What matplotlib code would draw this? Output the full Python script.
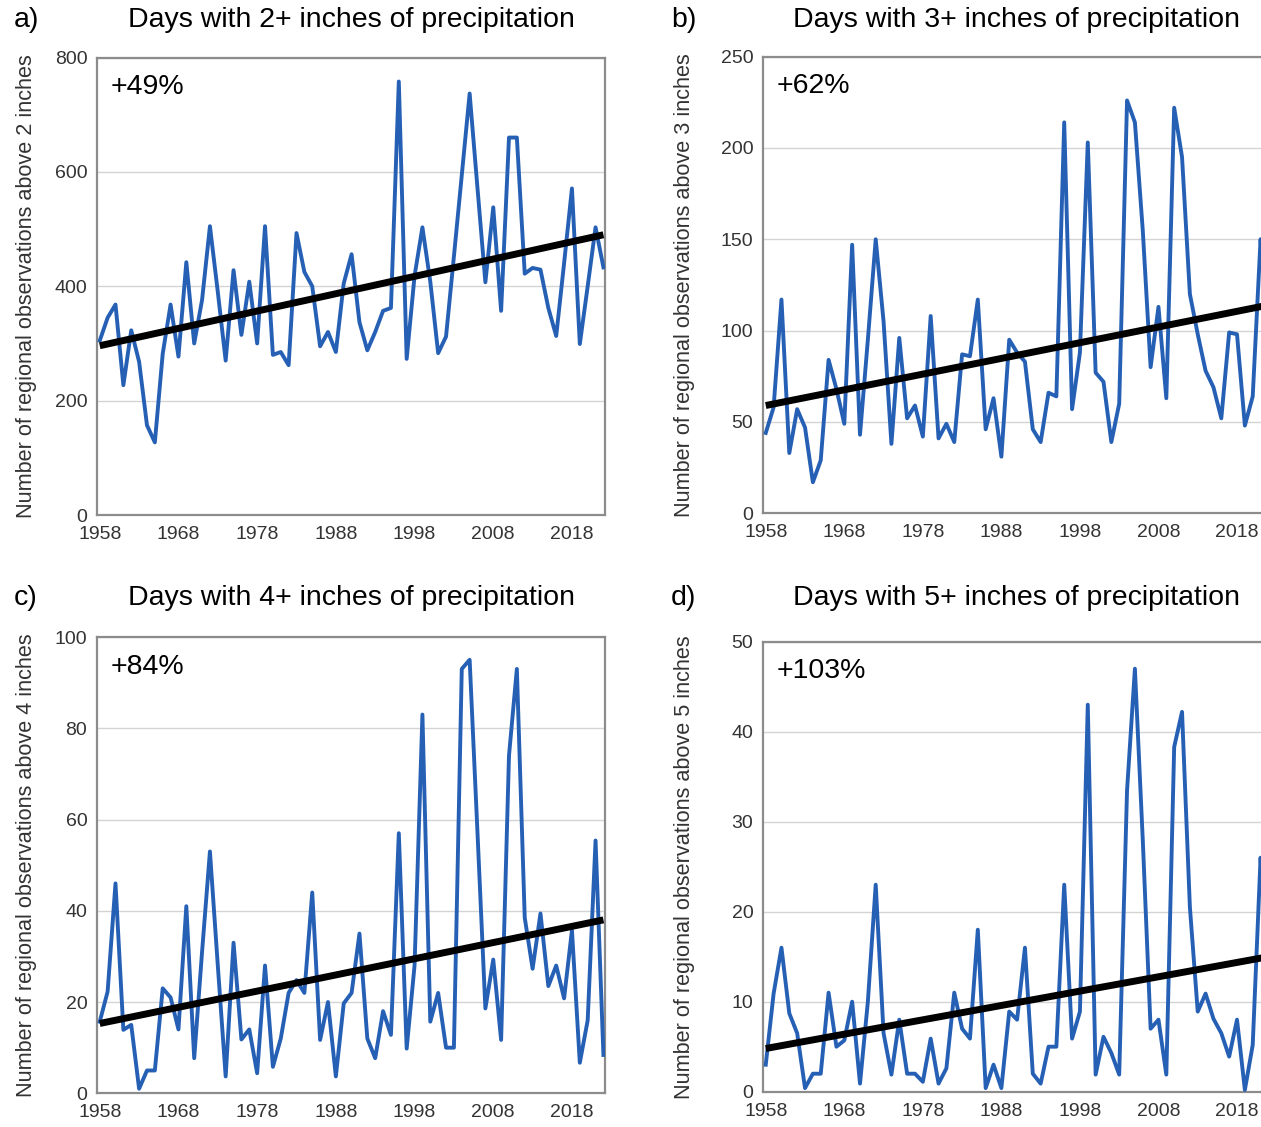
import matplotlib
matplotlib.use('Agg')

import numpy as np
import matplotlib.pyplot as plt

plt.rcParams['font.family'] = ['Liberation Sans', 'DejaVu Sans']

years = np.arange(1958, 2023)

# days with 2+ inches
obs_2in = [305, 345, 368, 227, 323, 268, 157, 127, 282, 368,
           277, 442, 300, 376, 505, 390, 270, 428, 315, 408,
           300, 505, 280, 285, 262, 493, 425, 400, 295, 320,
           285, 405, 456, 337, 288, 320, 357, 362, 758, 273,
           418, 503, 408, 283, 312, 452, 594, 737, 571, 407,
           538, 357, 660, 660, 422, 432, 429, 362, 313, 440,
           571, 299, 400, 503, 433]
# days with 3+ inches
obs_3in = [44, 58, 117, 33, 57, 47, 17, 29, 84, 68,
           49, 147, 43, 95, 150, 105, 38, 96, 52, 59,
           42, 108, 41, 49, 39, 87, 86, 117, 46, 63,
           31, 95, 88, 83, 46, 39, 66, 64, 214, 57,
           88, 203, 77, 72, 39, 60, 226, 214, 155, 80,
           113, 63, 222, 195, 120, 98, 78, 69, 52, 99,
           98, 48, 64, 150, 80]
# days with 4+ inches
obs_4in = [15.7, 22.3, 46, 13.9, 15, 1, 5, 5, 23, 21,
           14, 41, 7.7, 31, 53, 28, 3.7, 33, 11.8, 14,
           4.4, 28, 5.8, 12, 22, 24.8, 22, 44, 11.7, 20,
           3.7, 19.7, 22, 35, 12, 7.7, 18, 12.8, 57, 9.8,
           28, 83, 15.7, 22, 10, 10, 93, 95, 57, 18.6,
           29.3, 11.7, 74, 93, 38.5, 27.3, 39.4, 23.5, 28, 20.8,
           35.7, 6.7, 16, 55.4, 8.4]
# days with 5+ inches
obs_5in = [3, 10.9, 16, 8.7, 6.5, 0.4, 2, 2, 11, 5,
           5.7, 10, 0.9, 10, 23, 6.5, 1.9, 8, 2, 2,
           1.1, 5.9, 0.9, 2.6, 11, 7, 5.9, 18, 0.4, 3,
           0.4, 8.9, 8, 16, 2, 0.9, 5, 5, 23, 5.9,
           8.9, 43, 1.9, 6.1, 4.3, 1.9, 33.5, 47, 28, 7,
           8, 1.9, 38.3, 42.2, 20.5, 8.9, 10.9, 8.1, 6.5, 3.9,
           8, 0.2, 5.2, 26, 10]

# trend line values at 1958 and 2022
trend_2in = [296, 490]
trend_3in = [59, 114]
trend_4in = [15.3, 38]
trend_5in = [4.8, 15.0]

panel_tags = ['a)', 'b)', 'c)', 'd)']
titles = ['Days with 2+ inches of precipitation',
          'Days with 3+ inches of precipitation',
          'Days with 4+ inches of precipitation',
          'Days with 5+ inches of precipitation']
ylabels = ['Number of regional observations above 2 inches',
           'Number of regional observations above 3 inches',
           'Number of regional observations above 4 inches',
           'Number of regional observations above 5 inches']
pct_labels = ['+49%', '+62%', '+84%', '+103%']
ymaxes = [800, 250, 100, 50]
ysteps = [200, 50, 20, 10]
xticks = [1958, 1968, 1978, 1988, 1998, 2008, 2018]

series = [obs_2in, obs_3in, obs_4in, obs_5in]
trends = [trend_2in, trend_3in, trend_4in, trend_5in]

W, H = 1261, 1127
fig = plt.figure(figsize=(W / 100, H / 100), dpi=100)

# axes boxes in pixels: left, top, right, bottom
boxes = [(97, 57.5, 605, 515),
         (763, 56.6, 1270, 513.3),
         (97, 637, 605, 1093.3),
         (763, 641.7, 1270, 1091.7)]
tag_xy = [(14, 20), (671, 20), (14, 598), (671, 598)]
ylab_x = [37, 695, 37, 695]

blue = '#2660b5'
for k in range(4):
    l, t, r, b = boxes[k]
    ax = fig.add_axes([l / W, 1 - b / H, (r - l) / W, (b - t) / H])
    ax.plot(years, series[k], color=blue, lw=2.8, zorder=3)
    ax.plot([years[0], years[-1]], trends[k], color='black', lw=5,
            solid_capstyle='butt', zorder=4)

    ax.set_xlim(1957.65, 2022.2)
    ax.set_ylim(0, ymaxes[k])
    ax.set_xticks(xticks)
    ax.set_yticks(np.arange(0, ymaxes[k] + 1, ysteps[k]))
    ax.tick_params(length=0, labelsize=14, colors='#333333')
    ax.tick_params(axis='y', pad=7)
    ax.tick_params(axis='x', pad=8)
    ax.grid(axis='y', color='#d4d4d4', lw=1)
    ax.set_axisbelow(True)
    for sp in ax.spines.values():
        sp.set_color('#8c8c8c')
        sp.set_linewidth(1.6)

    ax.set_ylabel(ylabels[k], fontsize=15.6, color='#333333')
    ax.yaxis.set_label_coords((ylab_x[k] - l) / (r - l), 0.5)

    ax.text(0.026, 0.935, pct_labels[k], transform=ax.transAxes,
            fontsize=20.5, va='center', ha='left')

    cx = (l + r) / 2
    fig.text(cx / W, 1 - tag_xy[k][1] / H, titles[k], fontsize=20.5,
             ha='center', va='center')
    fig.text(tag_xy[k][0] / W, 1 - tag_xy[k][1] / H, panel_tags[k],
             fontsize=20.5, ha='left', va='center')

fig.savefig('out.png', dpi=100)
